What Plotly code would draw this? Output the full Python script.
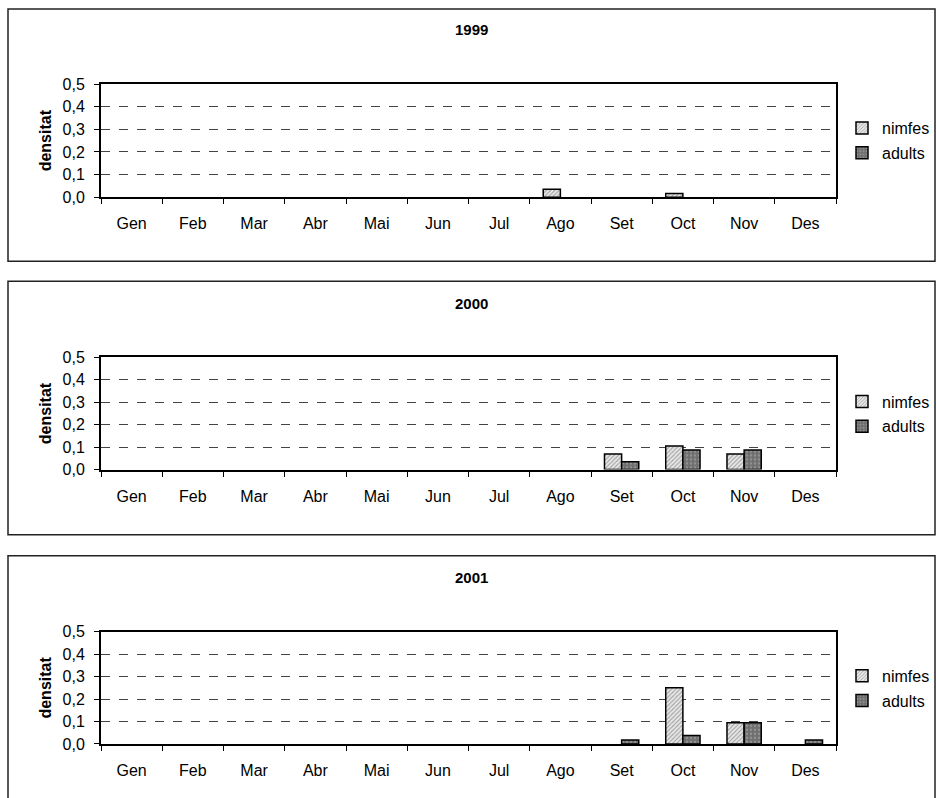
import plotly.graph_objects as go

W, H = 936, 798

months = ["Gen", "Feb", "Mar", "Abr", "Mai", "Jun", "Jul", "Ago", "Set", "Oct", "Nov", "Des"]
years = ["1999", "2000", "2001"]

nimfes_1999 = [0, 0, 0, 0, 0, 0, 0, 0.035, 0, 0.017, 0, 0]
adults_1999 = [0, 0, 0, 0, 0, 0, 0, 0, 0, 0, 0, 0]
nimfes_2000 = [0, 0, 0, 0, 0, 0, 0, 0, 0.07, 0.105, 0.07, 0]
adults_2000 = [0, 0, 0, 0, 0, 0, 0, 0, 0.035, 0.087, 0.087, 0]
nimfes_2001 = [0, 0, 0, 0, 0, 0, 0, 0, 0, 0.25, 0.095, 0]
adults_2001 = [0, 0, 0, 0, 0, 0, 0, 0, 0.018, 0.038, 0.095, 0.018]

nimfes = [nimfes_1999, nimfes_2000, nimfes_2001]
adults = [adults_1999, adults_2000, adults_2001]

FONT = "Liberation Sans, Arial, sans-serif"

# page placement of the drawing area (top offset and effective height)
TOP_OFFSET, DRAW_H = 8, 780


def px(x):
    return x / W


def py(y):
    return 1 - (y - TOP_OFFSET) / DRAW_H


def nonzero(values):
    # empty months get no bar at all (avoids a flat outline on the axis)
    return [v if v else None for v in values]


# panel geometry (page pixels): outer frame top/bottom, plot top/bottom, title centre
panels = [
    dict(top=9, bottom=261, ptop=84, pbot=197, title=29),
    dict(top=281, bottom=534, ptop=357, pbot=469, title=303),
    dict(top=555, bottom=830, ptop=631, pbot=743, title=577),
]
plot_left, plot_right = 101, 836

fig = go.Figure()
layout = dict(
    width=W, height=H,
    margin=dict(l=0, r=0, t=0, b=0),
    paper_bgcolor="white", plot_bgcolor="white",
    separators=",.",
    barmode="group", bargap=0.44, bargroupgap=0,
    font=dict(family=FONT, size=16, color="black"),
    shapes=[], annotations=[],
)

for i, p in enumerate(panels):
    n = "" if i == 0 else str(i + 1)
    xa, ya = "x" + n, "y" + n
    lg = "legend" + n
    fig.add_trace(go.Bar(
        x=months, y=nonzero(nimfes[i]), name="nimfes", xaxis=xa, yaxis=ya,
        legend=lg, legendgroup="nimfes" + n,
        marker=dict(color="white", line=dict(color="black", width=1.5),
                    pattern=dict(shape="/", fgcolor="#555555", bgcolor="#e8e8e8",
                                 size=3, solidity=0.35)),
    ))
    fig.add_trace(go.Bar(
        x=months, y=nonzero(adults[i]), name="adults", xaxis=xa, yaxis=ya,
        legend=lg, legendgroup="adults" + n,
        marker=dict(color="#7a7a7a", line=dict(color="black", width=1.5),
                    pattern=dict(shape=".", fgcolor="#b5b5b5", bgcolor="#6e6e6e",
                                 size=4, solidity=0.3)),
    ))
    layout["xaxis" + n] = dict(
        domain=[px(plot_left), px(plot_right)], anchor=ya,
        range=[-0.5, 11.5],
        showline=True, linecolor="black", linewidth=2, mirror=True,
        ticks="outside", tickson="boundaries", ticklen=5, tickcolor="black",
        ticklabelstandoff=11,
        showgrid=False, fixedrange=True,
        tickfont=dict(family=FONT, size=16),
    )
    layout["yaxis" + n] = dict(
        domain=[py(p["pbot"]), py(p["ptop"])], anchor=xa,
        range=[0, 0.5], dtick=0.1, tickformat=".1f",
        showline=True, linecolor="black", linewidth=2, mirror=True,
        ticks="outside", ticklen=5, tickcolor="black",
        ticklabelstandoff=6,
        showgrid=True, gridcolor="#444444", gridwidth=1, griddash="dash",
        zeroline=False, fixedrange=True,
        tickfont=dict(family=FONT, size=16),
        title=dict(text="<b>densitat</b>", standoff=7,
                   font=dict(family=FONT, size=16)),
    )
    layout[lg] = dict(
        x=px(842), y=py(p["ptop"] + 27), xanchor="left", yanchor="top",
        bgcolor="rgba(0,0,0,0)", itemwidth=30, tracegroupgap=1,
        font=dict(family=FONT, size=16),
    )
    layout["shapes"].append(dict(
        type="rect", xref="paper", yref="paper",
        x0=px(8), x1=px(935), y0=py(p["bottom"]), y1=py(p["top"]),
        line=dict(color="#222222", width=1.5), fillcolor="rgba(0,0,0,0)",
        layer="below",
    ))
    layout["annotations"].append(dict(
        text="<b>" + years[i] + "</b>", xref="paper", yref="paper",
        x=px(471), y=py(p["title"]), xanchor="center", yanchor="middle",
        showarrow=False, font=dict(family=FONT, size=15),
    ))

fig.update_layout(**layout)
fig.write_html("out.html")
